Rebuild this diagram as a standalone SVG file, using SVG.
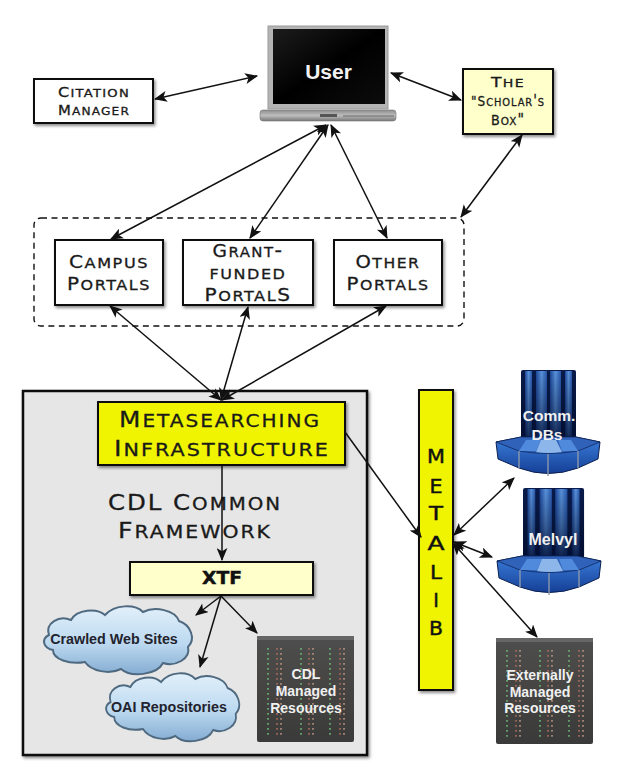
<svg xmlns="http://www.w3.org/2000/svg" width="623" height="780" viewBox="0 0 623 780">
<style>
.box{stroke:#111;stroke-width:2}
.white{fill:#fff}.pale{fill:#ffffcc}.yel{fill:#f0f400}
.sc{font-family:"DejaVu Sans",sans-serif;font-variant:small-caps;letter-spacing:.07em;fill:#1a1a1a;stroke:#1a1a1a;stroke-width:.3;text-anchor:middle}
.up{font-family:"DejaVu Sans",sans-serif;fill:#111;stroke:#111;stroke-width:.45;text-anchor:middle}
.b{font-family:"Liberation Sans",Arial,sans-serif;font-weight:700;text-anchor:middle}
.w{fill:#f0f0f0}.d{fill:#22232e}
.arrow{fill:none;stroke:#111;stroke-width:1.500;marker-end:url(#h)}
.both{marker-start:url(#h)}
.led{fill:none;stroke-width:1.800;stroke-dasharray:1.800 3.200;opacity:.8}
.cloud{fill:url(#cg);stroke:#4f6a80;stroke-width:2}
</style>
<defs>
<marker id="h" viewBox="0 0 12 10" refX="11" refY="5" markerUnits="userSpaceOnUse" markerWidth="13" markerHeight="11" orient="auto-start-reverse"><path d="M0 0L12 5L0 10L3 5Z" fill="#111"/></marker>
<filter id="s" x="-10%" y="-10%" width="125%" height="125%"><feDropShadow dx="1.500" dy="2" stdDeviation="1.500" flood-color="#000" flood-opacity=".45"/></filter>
<linearGradient id="cg" x1="0" y1="0" x2="0" y2="1"><stop offset="0" stop-color="#e2f0fa"/><stop offset=".55" stop-color="#bcd9f0"/><stop offset="1" stop-color="#84acd2"/></linearGradient>
<linearGradient id="srv" x1="0" y1="0" x2="0" y2="1"><stop offset="0" stop-color="#4e4e4e"/><stop offset=".5" stop-color="#454442"/><stop offset="1" stop-color="#3a3a3a"/></linearGradient>
<linearGradient id="panel" x1="0" y1="0" x2="1" y2="0"><stop offset="0" stop-color="#1e4aa0"/><stop offset=".5" stop-color="#5f9be6"/><stop offset="1" stop-color="#2a5cb4"/></linearGradient>
<linearGradient id="colV" x1="0" y1="0" x2="0" y2="1"><stop offset="0" stop-color="#000820" stop-opacity=".05"/><stop offset=".55" stop-color="#000820" stop-opacity=".4"/><stop offset="1" stop-color="#000c30" stop-opacity=".85"/></linearGradient>
<linearGradient id="front" x1="0" y1="0" x2="0" y2="1"><stop offset="0" stop-color="#3b7fdc"/><stop offset="1" stop-color="#153f96"/></linearGradient>
<linearGradient id="scr" x1="0" y1="0" x2="1" y2="1"><stop offset="0" stop-color="#1c1c1c"/><stop offset=".5" stop-color="#000"/><stop offset="1" stop-color="#0c0c0c"/></linearGradient>
<linearGradient id="base" x1="0" y1="0" x2="0" y2="1"><stop offset="0" stop-color="#8d8d8d"/><stop offset=".5" stop-color="#bdbdbd"/><stop offset="1" stop-color="#777"/></linearGradient>
<g id="server">
<rect width="97" height="106" rx="2" fill="url(#srv)"/>
<rect width="97" height="4" fill="#666"/>
<g class="led" stroke="#6fc27a"><path d="M11 12V100"/><path d="M44 12V100"/><path d="M73 12V100"/></g>
<g class="led" stroke="#b5705e"><path d="M20 12V100"/><path d="M52 12V100"/><path d="M83 12V100"/></g>
<g class="led" stroke="#c49a86"><path d="M24 12V100"/><path d="M56 12V100"/><path d="M87 12V100"/></g>
</g>
<g id="craybase">
<path d="M0 5L25 0H80L104 5L102 22L82 31Q52 42 23 31L2 22Z" fill="url(#front)" stroke="#0c2050" stroke-width="1"/>
<path d="M0 5L25 0H80L104 5L82 14Q52 19 23 14Z" fill="#2f62b8" stroke="#0c2050" stroke-width=".7"/>
<path d="M30 3L23 14H40L45 3ZM62 3L66 14H82L75 3Z" fill="#4f8adc"/>
<path d="M45 3L40 15Q52 17 66 15L60 3Z" fill="#8db6ea"/>
<path d="M23 14V31M52 17V39M82 14V31" stroke="#8a97aa" stroke-width="1.400" fill="none"/>
</g>
<g id="craycol">
<rect width="55" height="72" rx="2" fill="#0a1c4c"/>
<rect x="4" y="1" width="7" height="71" fill="url(#panel)"/><rect x="15" y="1" width="11" height="71" fill="url(#panel)"/><rect x="29" y="1" width="11" height="71" fill="url(#panel)"/><rect x="44" y="1" width="7" height="71" fill="url(#panel)"/>
<rect width="55" height="72" fill="url(#colV)"/>
</g>
<path id="cloudshape" d="M14 30C10 18 24 10 36 15C42 4 62 3 70 10C80 -1 100 -1 108 7C120 1 140 5 144 16C156 20 161 34 153 42C156 54 140 62 128 58C122 70 96 73 86 64C74 70 56 66 50 57C34 60 18 54 18 45C8 43 6 34 14 30Z"/>
</defs>

<rect width="623" height="780" fill="#fff"/>

<g id="framework"><rect x="23" y="391" width="344" height="364" fill="#e6e6e6" stroke="#111" stroke-width="2.500" filter="url(#s)"/>
<text class="sc" x="195" y="510" font-size="24" textLength="174" lengthAdjust="spacingAndGlyphs"><tspan font-size="21">CDL C</tspan>ommon</text>
<text class="sc" x="195" y="538" font-size="24" textLength="154" lengthAdjust="spacingAndGlyphs"><tspan font-size="21">F</tspan>ramework</text></g>

<g id="portals-group"><rect x="34" y="218" width="430" height="108" rx="7" fill="none" stroke="#111" stroke-width="1.400" stroke-dasharray="6 4.500"/></g>

<g id="user">
<rect x="260" y="110" width="136" height="11" rx="3" fill="url(#base)" stroke="#777" stroke-width=".6"/>
<rect x="268" y="26" width="120" height="83" fill="#b4b4b4" stroke="#999"/>
<rect x="273" y="29" width="112" height="75" fill="url(#scr)"/>
<rect x="320" y="114" width="17" height="3" fill="#555"/>
<path d="M343 116H394" stroke="#666" stroke-width="1"/>
<text class="b" x="328.500" y="79" font-size="21" fill="#f2f2f2">User</text>
</g>
<g id="citation"><rect class="box white" x="34" y="79" width="119" height="44" filter="url(#s)"/>
<text class="sc" x="94" y="97" font-size="15" textLength="72" lengthAdjust="spacingAndGlyphs"><tspan font-size="13.500">C</tspan>itation</text>
<text class="sc" x="94" y="115" font-size="15" textLength="72" lengthAdjust="spacingAndGlyphs"><tspan font-size="13.500">M</tspan>anager</text></g>
<g id="scholars"><rect class="box pale" x="463" y="69" width="90" height="65" filter="url(#s)"/>
<text class="sc" x="508" y="87" font-size="15" textLength="34" lengthAdjust="spacingAndGlyphs"><tspan font-size="13.500">T</tspan>he</text>
<text class="sc" x="508" y="106" font-size="15" textLength="74" lengthAdjust="spacingAndGlyphs"><tspan font-size="13.500">"S</tspan>cholar's</text>
<text class="sc" x="508" y="125" font-size="15" textLength="34" lengthAdjust="spacingAndGlyphs"><tspan font-size="13.500">B</tspan>ox"</text></g>
<g id="campus"><rect class="box white" x="55" y="240" width="108" height="65" filter="url(#s)"/>
<text class="sc" x="109" y="268" font-size="19.500" textLength="80" lengthAdjust="spacingAndGlyphs"><tspan font-size="17.500">C</tspan>ampus</text>
<text class="sc" x="109" y="290" font-size="19.500" textLength="84" lengthAdjust="spacingAndGlyphs"><tspan font-size="17.500">P</tspan>ortals</text></g>
<g id="grant"><rect class="box white" x="183" y="240" width="130" height="65" filter="url(#s)"/>
<text class="sc" x="248" y="257" font-size="19.500" textLength="71" lengthAdjust="spacingAndGlyphs"><tspan font-size="17.500">G</tspan>rant-</text>
<text class="sc" x="248" y="279" font-size="19.500" textLength="77" lengthAdjust="spacingAndGlyphs">funded</text>
<text class="sc" x="248" y="301" font-size="19.500" textLength="87" lengthAdjust="spacingAndGlyphs"><tspan font-size="17.500">P</tspan>ortal<tspan font-size="17.500">S</tspan></text></g>
<g id="other"><rect class="box white" x="334" y="240" width="108" height="65" filter="url(#s)"/>
<text class="sc" x="388" y="268" font-size="19.500" textLength="65" lengthAdjust="spacingAndGlyphs"><tspan font-size="17.500">O</tspan>ther</text>
<text class="sc" x="388" y="290" font-size="19.500" textLength="83" lengthAdjust="spacingAndGlyphs"><tspan font-size="17.500">P</tspan>ortals</text></g>

<g id="metasearching"><rect class="box yel" x="98" y="402" width="247" height="63" filter="url(#s)"/>
<text class="sc" x="220" y="427" font-size="24" textLength="202" lengthAdjust="spacingAndGlyphs"><tspan font-size="21">M</tspan>etasearching</text>
<text class="sc" x="222" y="456" font-size="24" textLength="216" lengthAdjust="spacingAndGlyphs"><tspan font-size="21">I</tspan>nfrastructure</text></g>
<g id="xtf"><rect class="box pale" x="130" y="562" width="183" height="33" filter="url(#s)"/>
<text class="up" x="222" y="584" font-size="17" font-weight="700" textLength="40" lengthAdjust="spacingAndGlyphs">XTF</text></g>
<g id="metalib"><rect class="box yel" x="419" y="390" width="34" height="300" filter="url(#s)"/>
<g class="up" font-size="19">
<text x="436" y="463" textLength="18" lengthAdjust="spacingAndGlyphs">M</text><text x="436" y="493" textLength="13" lengthAdjust="spacingAndGlyphs">E</text><text x="436" y="520" textLength="14" lengthAdjust="spacingAndGlyphs">T</text><text x="436" y="550" textLength="17" lengthAdjust="spacingAndGlyphs">A</text><text x="436" y="579" textLength="12" lengthAdjust="spacingAndGlyphs">L</text><text x="436" y="607">I</text><text x="436" y="635" textLength="14" lengthAdjust="spacingAndGlyphs">B</text></g></g>

<g id="crawled"><use href="#cloudshape" class="cloud" transform="translate(35 605)"/>
<text class="b d" x="114" y="644" font-size="14.300">Crawled Web Sites</text></g>
<g id="oai"><use href="#cloudshape" class="cloud" transform="translate(98 672) scale(.9 1)"/>
<text class="b d" x="169" y="712" font-size="14.300">OAI Repositories</text></g>
<g id="cdl"><use href="#server" transform="translate(257 636)"/>
<text class="b w" x="306" y="679" font-size="14">CDL</text><text class="b w" x="306" y="696" font-size="14">Managed</text><text class="b w" x="306" y="713" font-size="14">Resources</text></g>
<g id="external"><use href="#server" transform="translate(496 638)"/>
<text class="b w" x="540" y="680" font-size="14">Externally</text><text class="b w" x="540" y="697" font-size="14">Managed</text><text class="b w" x="540" y="713" font-size="14">Resources</text></g>
<g id="comm"><use href="#craycol" transform="translate(521 370)"/><use href="#craybase" transform="translate(496 437)"/>
<text class="b w" x="549" y="421" font-size="15.500">Comm.</text><text class="b w" x="547" y="440" font-size="15.500">DBs</text></g>
<g id="melvyl"><use href="#craycol" transform="translate(523 488) scale(1.110 .97)"/><use href="#craybase" transform="translate(497 556)"/>
<text class="b w" x="553" y="545" font-size="16">Melvyl</text></g>

<g id="connectors">
<path class="arrow both" d="M155 99L257 76"/>
<path class="arrow both" d="M391 73L461 100"/>
<path class="arrow both" d="M326 125L111 239"/>
<path class="arrow both" d="M328 125L250 238"/>
<path class="arrow both" d="M331 125L387 238"/>
<path class="arrow both" d="M522 135L461 217"/>
<path class="arrow both" d="M110 306L221 400"/>
<path class="arrow both" d="M248 307L221 400"/>
<path class="arrow both" d="M386 306L222 400"/>
<path class="arrow" d="M222 465V560"/>
<path class="arrow" d="M345 432L421 537"/>
<path class="arrow" d="M221 596L196 615"/>
<path class="arrow" d="M221 596L200 667"/>
<path class="arrow" d="M221 596L257 633"/>
<path class="arrow both" d="M454 535L514 478"/>
<path class="arrow both" d="M454 542L492 557"/>
<path class="arrow both" d="M453 543L537 637"/>
</g>
</svg>
